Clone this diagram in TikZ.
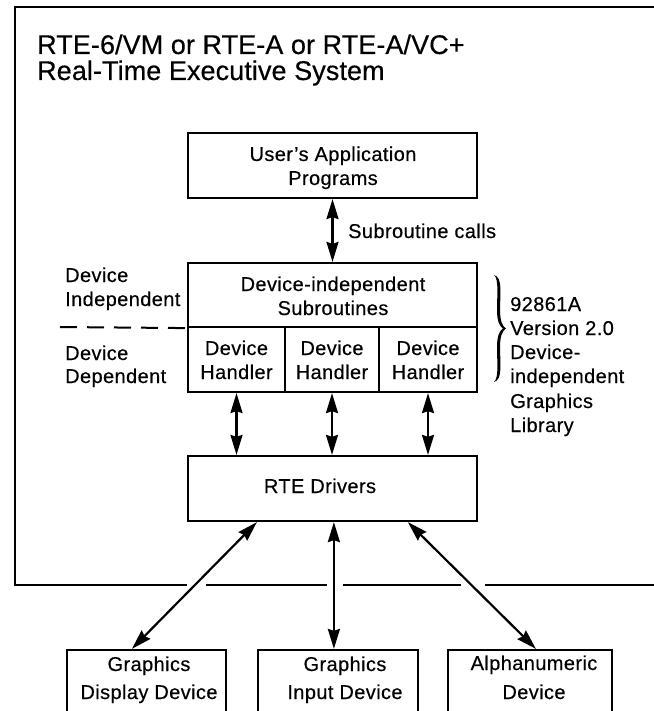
\documentclass[tikz,border=0pt]{standalone}
\usepackage{fontspec}
\setmainfont{Liberation Sans}[LetterSpace=2,FakeBold=0.4]
\usetikzlibrary{arrows.meta,decorations.pathreplacing,calc}
\begin{document}
\begin{tikzpicture}[x=1pt,y=-1pt,
  box/.style={draw, line width=2.2pt, inner sep=0pt},
  txt/.style={anchor=base, inner sep=0pt, font=\fontsize{20}{24}\selectfont},
  txtw/.style={anchor=base west, inner sep=0pt, font=\fontsize{20}{24}\selectfont},
  ttl/.style={anchor=base west, inner sep=0pt, font=\fontsize{27}{30}\selectfont\addfontfeatures{LetterSpace=0.3}},
  frame/.style={line width=1.9pt},
  arr/.style={line width=2.2pt, {Stealth[length=20pt,width=12pt,inset=2pt]}-{Stealth[length=20pt,width=12pt,inset=2pt]}}
]
\useasboundingbox (0,0) rectangle (653,711);

% outer frame (right side lies beyond the picture)
\draw[frame] (700,7) -- (15,7) -- (15,585) -- (187,585);
\draw[frame] (206,585) -- (327,585);
\draw[frame] (343,585) -- (461,585);
\draw[frame] (485,585) -- (700,585);

% title
\node[ttl] (t1) at (37,54) {RTE-6/VM or RTE-A or RTE-A/VC+};
\node[ttl] (t2) at (37,80) {Real-Time Executive System};

% boxes
\node[box, minimum width=289pt, minimum height=65pt] (user) at (332.5,165.5) {};
\node[box, minimum width=289pt, minimum height=64pt] (di) at (332.5,295) {};
\node[box, minimum width=97pt, minimum height=65pt] (h1) at (236.5,359.5) {};
\node[box, minimum width=94pt, minimum height=65pt] (h2) at (332,359.5) {};
\node[box, minimum width=98pt, minimum height=65pt] (h3) at (428,359.5) {};
\node[box, minimum width=289pt, minimum height=65pt] (rte) at (332.5,488.5) {};
\node[box, minimum width=159pt, minimum height=70pt] (b1) at (146.5,685) {};
\node[box, minimum width=160pt, minimum height=70pt] (b2) at (338,685) {};
\node[box, minimum width=164pt, minimum height=70pt] (b3) at (530,685) {};

% box texts
\node[txt] (u1) at (333,161) {User's Application};
\node[txt] (u2) at (333,185) {Programs};
\node[txt] (d1) at (333,291) {Device-independent};
\node[txt] (d2) at (333,315) {Subroutines};
\node[txt] (h1a) at (236.5,355) {Device};
\node[txt] (h1b) at (236.5,379) {Handler};
\node[txt] (h2a) at (332,355) {Device};
\node[txt] (h2b) at (332,379) {Handler};
\node[txt] (h3a) at (428,355) {Device};
\node[txt] (h3b) at (428,379) {Handler};
\node[txt] (r1) at (320,493) {RTE Drivers};
\node[txt] (b1a) at (149,671) {Graphics};
\node[txt] (b1b) at (149,699) {Display Device};
\node[txt] (b2a) at (345,671) {Graphics};
\node[txt] (b2b) at (345,699) {Input Device};
\node[txt] (b3a) at (534,670) {Alphanumeric};
\node[txt] (b3b) at (534,699) {Device};

% side labels
\node[txtw] (l1) at (65,282) {Device};
\node[txtw] (l2) at (65,306) {Independent};
\node[txtw] (l3) at (65,360) {Device};
\node[txtw] (l4) at (65,383) {Dependent};
\coordinate (dashstart) at (60,327);
\draw[line width=2pt, dash pattern=on 17pt off 10pt] (dashstart) -- (di.south west);

% library label with brace (filled curly brace)
\fill (494,275) .. controls (503,277) and (500,295) .. (500,310)
  .. controls (500,320) and (502,326) .. (506,328.5)
  .. controls (502,331) and (500,337) .. (500,347)
  .. controls (500,362) and (503,380) .. (494,382)
  .. controls (499,378) and (497,362) .. (497,347)
  .. controls (497,337) and (499,331) .. (503,328.5)
  .. controls (499,326) and (497,320) .. (497,310)
  .. controls (497,295) and (499,279) .. (494,275) -- cycle;
\node[txtw] (g1) at (510,311) {92861A};
\node[txtw] (g2) at (510,335) {Version 2.0};
\node[txtw] (g3) at (510,359) {Device-};
\node[txtw] (g4) at (510,383) {independent};
\node[txtw] (g5) at (510,408) {Graphics};
\node[txtw] (g6) at (510,432) {Library};

% connectors
\draw[arr] (user.south) -- (di.north);
\node[txtw] (sc) at (348,238) {Subroutine calls};
\draw[arr] (h1.south) -- (h1.south |- rte.north);
\draw[arr] (h2.south) -- (h2.south |- rte.north);
\draw[arr] (h3.south) -- (h3.south |- rte.north);
\draw[arr] ([xshift=70pt]rte.south west) -- ([xshift=66pt]b1.north west);
\draw[arr] ([xshift=147pt]rte.south west) -- ([xshift=77pt]b2.north west);
\draw[arr] ([xshift=221pt]rte.south west) -- ([xshift=89pt]b3.north west);
\end{tikzpicture}
\end{document}
